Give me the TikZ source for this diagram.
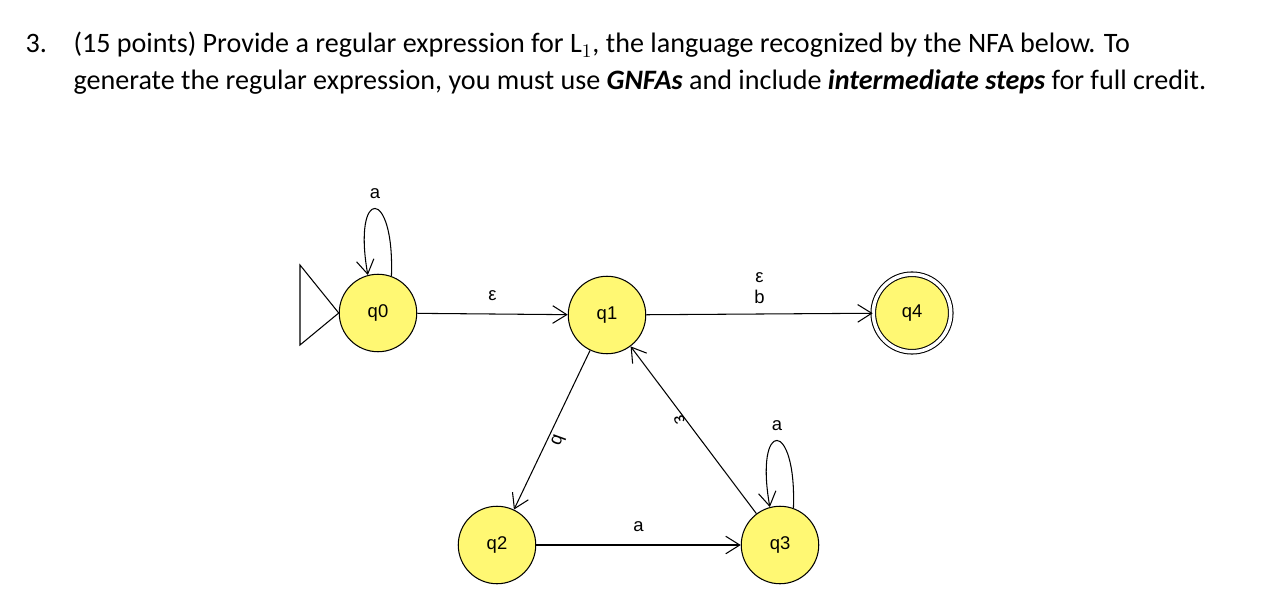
\documentclass[tikz,border=0pt]{standalone}
\usepackage{fontspec}
\setmainfont{Carlito}
\newfontfamily\arialf{Liberation Sans}
\usetikzlibrary{arrows.meta}
\begin{document}
\begin{tikzpicture}[x=0.02cm,y=-0.02cm,line width=0.6pt,
    state/.style={circle,draw,fill=yellow!55,minimum size=1.55cm,inner sep=0pt,font=\arialf\fontsize{10.5}{12}\selectfont},
    lbl/.style={font=\arialf\fontsize{10.5}{12}\selectfont},
    edge/.style={draw,-{Straight Barb[length=8pt,width=10pt]}}]
    \useasboundingbox (0,0) rectangle (1267,615);
    % heading
    \node[anchor=base west,inner sep=0pt,font=\fontsize{16}{19}\selectfont] (num) at (25,53) {3.};
    \node[anchor=base west,font=\fontsize{16}{19}\selectfont,inner sep=0pt] (line1) at (73,53) {(15 points) Provide a regular expression for $\mathrm{L}_1$, the language recognized by the NFA below. To};
    \node[anchor=base west,font=\fontsize{16}{19}\selectfont,inner sep=0pt] (line2) at (73,90) {generate the regular expression, you must use \textbf{\textit{GNFAs}} and include \textbf{\textit{intermediate steps}} for full credit.};
    % states
    \node[state] (q0) at (378,313) {q0};
    \node[state] (q1) at (607,315) {q1};
    \node[state] (q2) at (497,545) {q2};
    \node[state] (q3) at (780,545) {q3};
    \node[state,double,double distance=2pt] (q4) at (912,313) {q4};
    % start
    \coordinate (s1) at (300,265);
    \coordinate (s2) at (300,345);
    \draw (s1) -- (q0.west) -- (s2) -- cycle;
    % transitions
    \draw[edge] (q0) -- node[lbl,above=4pt] {ε} (q1);
    \draw[edge] (q1) -- node[lbl,above=2pt,align=center] {ε\\b} (q4);
    \draw[edge] (q1) -- node[lbl,right=6pt,rotate=-110] {b} (q2);
    \draw[edge] (q3) -- node[lbl,left=6pt,rotate=-70] {ε} (q1);
    \draw[edge] (q2) -- node[lbl,above=4pt] {a} (q3);
    \draw[edge] (q0.70) .. controls +(-88:90) and +(-100:90) .. node[lbl,above=2pt] {a} (q0.105);
    \draw[edge] (q3.70) .. controls +(-88:90) and +(-100:90) .. node[lbl,above=2pt] {a} (q3.105);
\end{tikzpicture}
\end{document}
